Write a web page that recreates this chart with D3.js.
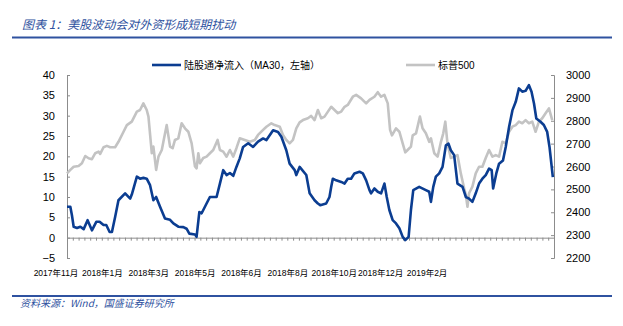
<!DOCTYPE html>
<html><head><meta charset="utf-8">
<script src="https://cdn.jsdelivr.net/npm/d3@7"></script>
<style>
html,body{margin:0;padding:0;background:#fff;}
svg{display:block;font-family:"Liberation Sans",Arial,"Noto Sans CJK SC",sans-serif;}
</style></head>
<body>
<svg id="c" width="623" height="326"></svg>
<script>
const title = "图表 1：美股波动会对外资形成短期扰动";
const source = "资料来源：Wind，国盛证券研究所";
const seriesNames = ["陆股通净流入（MA30，左轴）", "标普500"];
const xLabels = ["2017年11月","2018年1月","2018年3月","2018年5月","2018年6月","2018年8月","2018年10月","2018年12月","2019年2月"];
const leftTicks = [-5,0,5,10,15,20,25,30,35,40];
const rightTicks = [2200,2300,2400,2500,2600,2700,2800,2900,3000];

// trading-day index of each reading, and value (MA30 net inflow, left axis)
const flowDays = [0,2.3,3.4,4.6,6.9,9.2,11.5,14.2,17.2,20.2,22.5,25.2,27.1,29.4,31,33.2,35.5,40.1,43.6,44.7,48.2,50.4,52.7,55,57.3,59.6,61.5,64.2,67.6,71.1,73.4,76.8,80.3,82.5,84.4,88.3,89.4,91.3,92.9,96.3,98.6,103.2,105.5,107.8,110.1,112.4,114.7,116.9,119.2,121.5,125,128.4,131.8,135.3,137.6,142.2,145.6,147.9,151.3,153.6,157.1,158.2,
160.5,165.1,167.4,170.8,173.1,174.7,178.8,181.1,182.3,183.4,185.7,189.2,191.5,193.7,196,198.3,201.8,204.1,206.4,208.7,209.8,212.1,214.4,216.7,219,220.6,222.4,224.7,227,229.3,231.6,233.4,235.7,237.3,238.9,243,247.6,249.9,251.1,252.7,254.5,256.8,259.1,261.4,263.2,264.8,267.1,269.4,272.9,275.2,277.4,279.7,282,284.3,286.6,288.9,291.2,293,294,296.2,298.1,300.8,302.7,305,307.3,309.6,311.8,314.1,316.4,318.7,320.5,322.2,323.8,326.7,329,331.3,332.9,335.2];
const flowValues = [7.6,7.6,5.5,2.7,2.4,2.7,2.1,4.3,1.8,3.9,3.9,3.1,3.1,1.4,1.4,5.1,9.2,10.9,9.6,10.6,15.0,14.5,14.7,14.5,12.9,9.2,10.0,7.6,4.7,4.4,3.5,2.7,2.6,2.2,1.0,0.8,0.2,6.3,6.0,8.4,10.0,10.0,13.3,16.6,15.4,15.9,15.2,17.4,19.5,22.3,23.2,22.3,23.6,24.4,24.0,26.4,26.0,24.8,21.5,18.2,16.6,15.4,
17.4,15.4,10.9,9.2,8.4,8.0,8.4,10.0,12.5,14.5,14.1,13.7,13.3,14.5,14.5,15.8,16.2,15.8,14.1,11.7,10.9,12.1,11.3,10.9,13.3,10.0,6.8,4.3,3.5,2.3,0.2,-0.6,0.2,6.8,11.7,12.5,11.7,11.3,8.8,12.5,15.0,15.8,17.4,22.7,23.1,21.5,20.3,13.3,12.5,10.0,9.6,8.8,10.9,13.3,14.5,15.4,17.0,16.6,12.1,15.8,18.2,19.0,22.3,27.2,31.3,33.4,36.7,35.9,36.1,37.5,35.9,33.0,29.3,28.5,27.7,26.0,22.3,14.9];

// S&P 500 (right axis)
const spxDays = [0,2.3,4.6,8,10.3,12.6,14.9,17.2,19.5,21.8,22.9,25.2,27.5,29.8,33.2,35.5,39,41.3,44.7,48.2,50.4,52.7,55,56.2,58.5,59.6,61.5,63.1,65.4,66.5,68.8,71.1,72.9,74.5,76.8,79.1,81.4,83.7,86,88.3,89.4,90.6,91.7,94,96.3,98.6,100.9,103.9,105.5,107.8,110.1,112.4,114.7,116.9,119.2,122.7,126.1,129.6,131.8,135.3,137.6,141,143.3,146.8,149,151.3,153.6,155.9,158.2,
160.5,162.8,166.2,168.5,170.8,173.1,175.4,177.7,180,182.3,184.6,186.9,189.2,191.5,193.7,197.2,199.5,202.9,206.4,208.7,212.1,214.4,216.7,219,221.3,222.9,224.2,227,229.3,231.6,233.4,235,237.3,238.5,240.8,243.5,245.3,247.6,249.9,251.1,253.4,255.7,258,259.6,261,262.5,264.8,267.1,269.4,271.7,274,275.2,276.3,277.4,279.7,282,284.3,286.6,288.9,291.2,293.5,295.8,298.1,300.4,302.7,305,307.3,309.6,311.8,314.1,316.4,318.7,321,323.3,325.6,327.9,330.2,332.5,334.8];
const spxValues = [2570,2585,2599,2602,2614,2646,2636,2632,2658,2665,2655,2684,2690,2684,2684,2708,2752,2781,2796,2840,2847,2876,2847,2818,2658,2687,2585,2643,2672,2708,2781,2687,2680,2716,2723,2789,2767,2752,2701,2600,2592,2658,2614,2637,2643,2658,2672,2716,2672,2665,2643,2672,2643,2680,2723,2716,2708,2716,2738,2760,2774,2789,2781,2774,2738,2716,2701,2716,2767,
2793,2803,2811,2821,2803,2847,2811,2818,2840,2861,2847,2833,2840,2861,2869,2905,2913,2898,2876,2891,2905,2925,2905,2913,2876,2760,2736,2767,2752,2701,2662,2672,2687,2736,2745,2818,2767,2745,2708,2723,2658,2643,2708,2745,2796,2701,2637,2643,2650,2570,2505,2475,2424,2483,2512,2570,2599,2599,2637,2672,2643,2650,2643,2708,2701,2752,2774,2781,2796,2789,2803,2789,2796,2752,2796,2811,2833,2854,2803];

const totalDays = 336, tickEvery = 4, labelEvery = 32;
const BLUE = "#0b3d91", GRAY = "#c3c3c3", AX = "#8c8c8c", ACCENT = "#2f52a0";

const svg = d3.select("#c");
const L = 67, R = 554, T = 75, B = 258;
const x = d3.scaleLinear().domain([0, totalDays]).range([L, R]);
const yL = d3.scaleLinear().domain([-5, 40]).range([B, T]);
const yR = d3.scaleLinear().domain([2200, 3000]).range([B, T]);

// title & rules
svg.append("text").attr("x", 22).attr("y", 29).attr("font-size", 12).attr("font-style", "italic")
  .attr("font-family", "'Noto Sans CJK SC',sans-serif").attr("fill", ACCENT).text(title);
svg.append("line").attr("x1", 12).attr("x2", 612).attr("y1", 37.5).attr("y2", 37.5).attr("stroke", ACCENT).attr("stroke-width", 2);
svg.append("line").attr("x1", 12).attr("x2", 612).attr("y1", 296).attr("y2", 296).attr("stroke", ACCENT).attr("stroke-width", 2);
svg.append("text").attr("x", 20).attr("y", 307).attr("font-size", 10).attr("font-style", "italic")
  .attr("font-family", "'Noto Sans CJK SC',sans-serif").attr("fill", ACCENT).text(source);

// axes
function styleAxis(g){
  g.selectAll("path,line").attr("stroke", AX);
  g.selectAll("text").attr("fill", "#000").attr("font-size", 11).attr("font-family", "'Liberation Sans',Arial,sans-serif");
}
svg.append("g").attr("transform", `translate(${L},0)`)
  .call(d3.axisLeft(yL).tickValues(leftTicks).tickSize(-3).tickSizeOuter(-3).tickPadding(12).tickFormat(d3.format("d")))
  .call(styleAxis);
svg.append("g").attr("transform", `translate(${R},0)`)
  .call(d3.axisRight(yR).tickValues(rightTicks).tickSize(-3).tickSizeOuter(-3).tickPadding(12).tickFormat(d3.format("d")))
  .call(styleAxis);
svg.append("g").attr("transform", `translate(0,${yL(0)})`)
  .call(d3.axisBottom(x).tickValues(d3.range(0, totalDays + 1, tickEvery)).tickSize(3).tickSizeOuter(0).tickFormat(""))
  .call(styleAxis);

// x labels
svg.append("g").selectAll("text").data(xLabels).join("text")
  .attr("x", (d, i) => x(i * labelEvery)).attr("dx", -11).attr("y", 276)
  .attr("text-anchor", "middle").attr("font-size", 8.5).attr("fill", "#000")
  .attr("font-family", "'Liberation Sans',Arial,'Noto Sans CJK SC',sans-serif").text(d => d);

// lines
const flow = d3.zip(flowDays, flowValues);
const spx = d3.zip(spxDays, spxValues);
svg.append("path").datum(spx).attr("fill", "none").attr("stroke", GRAY).attr("stroke-width", 2.6).attr("stroke-linejoin", "round")
  .attr("d", d3.line().x(d => x(d[0])).y(d => yR(d[1])));
svg.append("path").datum(flow).attr("fill", "none").attr("stroke", BLUE).attr("stroke-width", 2.6).attr("stroke-linejoin", "round")
  .attr("d", d3.line().x(d => x(d[0])).y(d => yL(d[1])));

// legend
const leg = [{name: seriesNames[0], color: BLUE, x: 152}, {name: seriesNames[1], color: GRAY, x: 406}];
const lg = svg.append("g").selectAll("g").data(leg).join("g").attr("transform", d => `translate(${d.x},65)`);
lg.append("line").attr("x1", 0).attr("x2", 29).attr("stroke", d => d.color).attr("stroke-width", 2.6);
lg.append("text").attr("x", 32).attr("y", 3.5).attr("font-size", 10).attr("fill", "#000")
  .attr("font-family", "'Liberation Sans',Arial,'Noto Sans CJK SC',sans-serif").text(d => d.name);
</script>
</body></html>
